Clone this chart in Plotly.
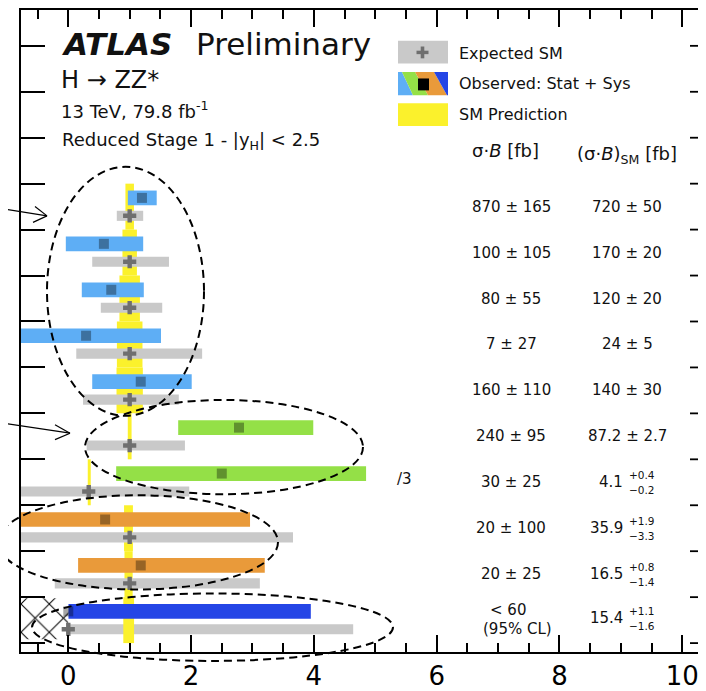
import plotly.graph_objects as go

# ---------------- data (rows listed top to bottom) ----------------
categories = ["ggF-0j", "ggF-1j, pT<60", "ggF-1j, 60<pT<120", "ggF-1j, 120<pT<200",
              "ggF-2j", "VBF, pTj<200", "VBF, pTj>200", "VH-Had", "VH-Lep", "ttH"]
group = ["ggF"] * 5 + ["VBF"] * 2 + ["VH"] * 2 + ["ttH"]

obs_ratio = [1.20, 0.58, 0.70, 0.29, 1.18, 2.78, 2.50, 0.60, 1.18, 0.00]
obs_low = [0.97, -0.04, 0.22, -0.85, 0.39, 1.79, 0.78, -0.85, 0.16, 0.00]
obs_high = [1.44, 1.22, 1.23, 1.51, 2.01, 3.99, 4.85, 2.96, 3.20, 3.95]

exp_ratio = [1, 1, 1, 1, 1, 1, 0.333, 1, 1, 0.00]
exp_low = [0.79, 0.39, 0.53, 0.13, 0.24, 0.30, -0.85, -0.85, -0.22, 0.00]
exp_high = [1.22, 1.64, 1.53, 2.18, 1.80, 1.90, 1.97, 3.66, 3.12, 4.64]

scale = [1, 1, 1, 1, 1, 1, 1 / 3, 1, 1, 1]
scale_txt = ["", "", "", "", "", "", "/3", "", "", ""]

sigma_obs_txt = ["870 ± 165", "100 ± 105", "80 ± 55", "7 ± 27", "160 ± 110",
                 "240 ± 95", "30 ± 25", "20 ± 100", "20 ± 25", "&lt; 60"]
sm_value = [720, 170, 120, 24, 140, 87.2, 4.1, 35.9, 16.5, 15.4]
sm_up = [50, 20, 20, 5, 30, 2.7, 0.4, 1.9, 0.8, 1.1]
sm_down = [50, 20, 20, 5, 30, 2.7, 0.2, 3.3, 1.4, 1.6]

x_ticks = [0, 2, 4, 6, 8, 10]

# ---------------- style / geometry ----------------
PAGE_OFF = 8                      # default body margin of the html page
WIN_W, WIN_H = 706, 691
LEFT, RIGHT, TOP, BOTTOM = 21, 706, 9, 656   # plot frame in window pixels
W, H = WIN_W - PAGE_OFF, WIN_H - PAGE_OFF
ML, MR, MT, MB = LEFT - PAGE_OFF, 0, TOP - PAGE_OFF, WIN_H - BOTTOM
X_RANGE = [-0.770, 10.386]
Y_RANGE = [-0.194, 13.78]
FONT = "DejaVu Sans"

colors = {"ggF": "#5eaef5", "VBF": "#94e047", "VH": "#e99a3a", "ttH": "#2445e6"}
GRAY = "#c9c9c9"
YELLOW = "#fbf12c"


def px(x):
    return (x - LEFT) / (RIGHT - LEFT)


def py(y):
    return (BOTTOM - y) / (BOTTOM - TOP)


n = len(categories)
slot = [n - 1 - i for i in range(n)]
obs_y = [k + 0.69 for k in slot]
exp_y = [k + 0.30 for k in slot]
band_y = [k + 0.5 for k in slot]
band_lo = [s - d / v * s for s, d, v in zip(scale, sm_down, sm_value)]
band_w = [(u + d) / v * s for s, u, d, v in zip(scale, sm_up, sm_down, sm_value)]

fig = go.Figure()

# SM prediction band (ttH drawn later, above its expected bar)
idx = [i for i in range(n) if group[i] != "ttH"]
fig.add_trace(go.Bar(orientation="h", y=[band_y[i] for i in idx], base=[band_lo[i] for i in idx],
                     x=[band_w[i] for i in idx], width=1.0, marker=dict(color=YELLOW, line=dict(width=0)),
                     hoverinfo="skip"))
# expected SM bars
fig.add_trace(go.Bar(orientation="h", y=exp_y, base=exp_low,
                     x=[h - l for h, l in zip(exp_high, exp_low)], width=0.22,
                     marker=dict(color=GRAY, line=dict(width=0)), hoverinfo="skip"))
fig.add_trace(go.Scatter(x=exp_ratio, y=exp_y, mode="markers",
                         marker=dict(symbol="cross", size=11, color="#6f6f6f", line=dict(width=0)),
                         hoverinfo="skip"))
idx = [i for i in range(n) if group[i] == "ttH"]
fig.add_trace(go.Bar(orientation="h", y=[band_y[i] for i in idx], base=[band_lo[i] for i in idx],
                     x=[band_w[i] for i in idx], width=1.0, marker=dict(color=YELLOW, line=dict(width=0)),
                     hoverinfo="skip"))
# observed bars
fig.add_trace(go.Bar(orientation="h", y=obs_y, base=obs_low,
                     x=[h - l for h, l in zip(obs_high, obs_low)], width=0.32,
                     marker=dict(color=[colors[g] for g in group], line=dict(width=0)), hoverinfo="skip"))
fig.add_trace(go.Scatter(x=obs_ratio, y=obs_y, mode="markers",
                         marker=dict(symbol="square", size=10, color="rgba(0,0,0,0.35)", line=dict(width=0)),
                         hoverinfo="skip"))
# hatched (unphysical) region for ttH row
k_tth = slot[n - 1]
fig.add_trace(go.Bar(orientation="h", y=[k_tth + 0.53], base=[X_RANGE[0]], x=[0 - X_RANGE[0]], width=0.89,
                     marker=dict(color="white", line=dict(width=0),
                                 pattern=dict(shape="x", size=20, solidity=0.1, fgcolor="black",
                                              fgopacity=1, bgcolor="white", fillmode="overlay")),
                     hoverinfo="skip"))

shapes = []
# right-hand ticks
for k in range(14):
    shapes.append(dict(type="line", xref="paper", yref="y", x0=px(690), x1=1.0, y0=k, y1=k,
                       line=dict(color="black", width=1.8)))

# dashed ellipses (window-pixel boxes)
for (x0, y0, x1, y1) in [(47, 167, 204, 418), (85, 402, 363, 497), (-2, 498, 278, 593), (32, 597, 393, 665)]:
    shapes.append(dict(type="circle", xref="paper", yref="paper", x0=px(x0), x1=px(x1), y0=py(y1), y1=py(y0),
                       line=dict(color="black", width=2, dash="8px,5px"), layer="above"))


# arrows from off-image labels
def seg(x0, y0, x1, y1, w=1.2):
    shapes.append(dict(type="line", xref="paper", yref="paper", x0=px(x0), y0=py(y0), x1=px(x1), y1=py(y1),
                       line=dict(color="black", width=w), layer="above"))


seg(-5, 208, 47, 216.5); seg(47, 216.5, 35, 207); seg(47, 216.5, 33, 223)
seg(-5, 424, 70, 435.5); seg(70, 435.5, 55, 427); seg(70, 435.5, 55, 442)
seg(0, 616, 6, 620); seg(6, 620, 0, 624)


# legend
def rect(x0, y0, x1, y1, color):
    shapes.append(dict(type="rect", xref="paper", yref="paper", x0=px(x0), x1=px(x1), y0=py(y1), y1=py(y0),
                       fillcolor=color, line=dict(width=0), layer="above"))


def poly(pts, color):
    path = "M " + " L ".join(f"{px(a):.5f},{py(b):.5f}" for a, b in pts) + " Z"
    shapes.append(dict(type="path", xref="paper", yref="paper", path=path, fillcolor=color,
                       line=dict(width=0), layer="above"))


rect(398, 40, 448, 63, GRAY)
rect(416.5, 50, 428.5, 53.5, "#6f6f6f")
rect(420.7, 45.8, 424.3, 57.7, "#6f6f6f")
poly([(398, 71.5), (402, 71.5), (413, 95), (398, 95)], colors["ggF"])
poly([(402, 71.5), (415, 71.5), (428, 95), (413, 95)], colors["VBF"])
poly([(415, 71.5), (434, 71.5), (447, 95), (428, 95)], colors["VH"])
poly([(434, 71.5), (448, 71.5), (448, 95), (447, 95)], colors["ttH"])
rect(418, 78, 429, 90, "black")
rect(398, 103, 448, 126, YELLOW)

annotations = []


def note(text, x, y, size, xanchor="left", yref="paper", color="#111"):
    annotations.append(dict(text=text, x=px(x), y=(py(y) if yref == "paper" else y), xref="paper", yref=yref,
                            xanchor=xanchor, yanchor="middle", showarrow=False,
                            font=dict(family=FONT, size=size, color=color)))


note("<b><i>ATLAS</i></b>", 59, 43, 31)
note("Preliminary", 194, 43, 31)
note("H → ZZ*", 59, 80, 24)
note("13 TeV, 79.8 fb<sup>-1</sup>", 59, 110, 18)
note("Reduced Stage 1 - |y<sub>H</sub>| &lt; 2.5", 60, 141, 18)
note("Expected SM", 457, 52.5, 16)
note("Observed: Stat + Sys", 457, 83.5, 16)
note("SM Prediction", 457, 114, 16)
note("σ·<i>B</i> [fb]", 505, 151, 18, xanchor="center")
note("(σ·<i>B</i>)<sub>SM</sub> [fb]", 627, 155, 18, xanchor="center")

for i in range(n):
    k = slot[i]
    if group[i] == "ttH":
        note(sigma_obs_txt[i], 508, 614, 15, xanchor="center")
        note("(95% CL)", 517, 633, 15, xanchor="center")
    else:
        note(sigma_obs_txt[i], 511, k + 0.5, 15, xanchor="center", yref="y")
    if sm_up[i] == sm_down[i]:
        note(f"{sm_value[i]:g} ± {sm_up[i]:g}", 627, k + 0.5, 15, xanchor="center", yref="y")
    else:
        yc = k + (0.5 if group[i] != "ttH" else 0.54)
        note(f"{sm_value[i]:g}", 625, yc, 15, xanchor="right", yref="y")
        note(f"+{sm_up[i]:g}", 627, yc + 0.16, 10.5, yref="y")
        note(f"−{sm_down[i]:g}", 627, yc - 0.16, 10.5, yref="y")
    if scale_txt[i]:
        note(scale_txt[i], 404, k + 0.58, 15, xanchor="center", yref="y")

fig.update_layout(width=W, height=H, margin=dict(l=ML, r=MR, t=MT, b=MB, pad=0),
                  plot_bgcolor="white", paper_bgcolor="white", barmode="overlay", showlegend=False,
                  font=dict(family=FONT, color="black"), shapes=shapes, annotations=annotations)
fig.update_xaxes(range=X_RANGE, tickmode="array", tickvals=x_ticks, ticks="inside", ticklen=17, tickwidth=1.8,
                 tickcolor="black", showline=True, linewidth=1.8, linecolor="black", mirror="ticks",
                 showgrid=False, zeroline=False, tickfont=dict(family=FONT, size=26, color="black"),
                 minor=dict(dtick=0.5, tick0=0, ticks="inside", ticklen=9, tickwidth=1.5, tickcolor="black",
                            showgrid=False))
fig.update_yaxes(range=Y_RANGE, tickmode="array", tickvals=list(range(14)), ticks="inside", ticklen=24,
                 tickwidth=1.8, tickcolor="black", showline=True, linewidth=1.8, linecolor="black", mirror=False,
                 showticklabels=False, showgrid=False, zeroline=False)

fig.write_html("out.html")
